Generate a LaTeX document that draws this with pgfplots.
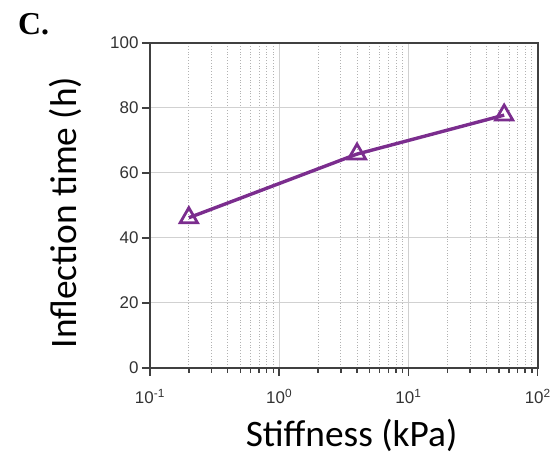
\documentclass[border=0pt]{standalone}
\usepackage{fontspec}
\setmainfont{Liberation Sans}
\newfontfamily\calibri{Carlito}
\newfontfamily\timesf{Liberation Serif}
\usepackage{pgfplots}
\pgfplotsset{compat=1.18}
\definecolor{linepurple}{RGB}{123,45,142}
\definecolor{axisgray}{RGB}{64,64,64}
\definecolor{labelgray}{RGB}{50,50,50}
\begin{document}
\begin{tikzpicture}
\begin{axis}[
  xmode=log, log basis x=10,
  width=388bp, height=325bp, scale only axis,
  xmin=0.1, xmax=100, ymin=0, ymax=100,
  xtick={0.1,1,10,100},
  minor xtick={0.2,0.3,0.4,0.5,0.6,0.7,0.8,0.9,2,3,4,5,6,7,8,9,20,30,40,50,60,70,80,90},
  xticklabels={10\textsuperscript{-1},10\textsuperscript{0},10\textsuperscript{1},10\textsuperscript{2}},
  ytick={0,20,40,60,80,100},
  /pgf/number format/assume math mode=true,
  tick label style={font=\fontsize{17}{19}\selectfont, text=labelgray},
  xticklabel style={yshift=-10bp},
  xlabel={\calibri Stiffness (kPa)},
  ylabel={\calibri Inflection time (h)},
  label style={font=\fontsize{37.5}{40}\selectfont},
  xlabel style={at={(ticklabel cs:0.52)}, anchor=north, yshift=-8bp},
  ylabel style={at={(ticklabel cs:0.478)}, anchor=south, yshift=22bp},
  axis line style={axisgray, line width=1.8bp},
  tick style={axisgray, line width=1.4bp},
  tick align=outside,
  major tick length=8bp, minor tick length=5bp,
  xtick pos=bottom, ytick pos=left,
  grid=both,
  major grid style={draw=black!18, line width=1bp, solid},
  minor grid style={draw=black!30, line width=0.8bp, dotted},
  ymajorgrids=true, yminorgrids=false,
  minor y tick num=0,
  clip=false,
]
\addplot[linepurple, line width=3.4bp, mark=triangle, mark size=10bp,
  mark options={solid, fill=white, line width=2.8bp}] coordinates {
  (0.2, 46.2) (4, 65.8) (55, 77.8)
};
\node[anchor=base west, inner sep=0pt, font=\timesf\bfseries\fontsize{32}{36}\selectfont]
  at ([xshift=-132bp, yshift=8bp]rel axis cs:0,1) {C.};
\path ([xshift=-150bp, yshift=-85bp]rel axis cs:0,0)
  rectangle ([xshift=16bp, yshift=43bp]rel axis cs:1,1);
\end{axis}
\end{tikzpicture}
\end{document}
